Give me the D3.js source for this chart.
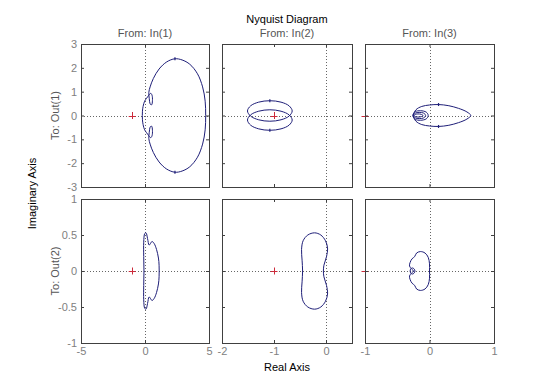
<!DOCTYPE html>
<html><head><meta charset="utf-8">
<script src="https://cdn.jsdelivr.net/npm/d3@7"></script>
<style>body{margin:0;background:#fff}svg text{font-family:"Liberation Sans",Arial,sans-serif}</style>
</head><body><svg id="c" width="545" height="384"></svg>
<script>
// ---- data ----
const inputs = ["From: In(1)", "From: In(2)", "From: In(3)"];
const outputs = ["To: Out(1)", "To: Out(2)"];
const xDomains = [[-5, 5], [-2, 0.5], [-1, 1]];
const yDomains = [[-3, 3], [-1, 1]];
const xTicks = [[-5, 0, 5], [-2, -1, 0], [-1, 0, 1]];
const yTicks = [[-3, -2, -1, 0, 1, 2, 3], [-1, -0.5, 0, 0.5, 1]];
const criticalPoint = [-1, 0];

// Out(1) <- In(1)
const nyq11 = [[4.74,0],[4.7,0.6],[4.5,1.2],[4.1,1.75],[3.5,2.15],[2.9,2.33],[2.34,2.38],[1.7,2.25],[1.1,1.95],[0.65,1.55],[0.4,1.2],[0.3,0.97],[0.33,0.72],[0.42,0.47],[0.52,0.45],[0.58,0.62],[0.55,0.85],[0.45,0.93],[0.3,0.85],[0.12,0.72],[-0.03,0.6],[-0.15,0.38],[-0.2,0.18],[-0.21,0],
  [-0.2,-0.18],[-0.15,-0.38],[-0.03,-0.6],[0.12,-0.72],[0.3,-0.85],[0.45,-0.93],[0.55,-0.85],[0.58,-0.62],[0.52,-0.45],[0.42,-0.47],[0.33,-0.72],[0.3,-0.97],[0.4,-1.2],[0.65,-1.55],[1.1,-1.95],[1.7,-2.25],[2.34,-2.38],[2.9,-2.33],[3.5,-2.15],[4.1,-1.75],[4.5,-1.2],[4.7,-0.6]];
// Out(1) <- In(2)
const nyq12pos = [[-0.65,0.19],[-0.71,0.405],[-0.865,0.56],[-1.08,0.62],[-1.295,0.56],[-1.45,0.405],[-1.51,0.19],[-1.45,-0.025],[-1.295,-0.18],[-1.08,-0.24],[-0.865,-0.18],[-0.71,-0.025]];
const nyq12neg = [[-0.65,-0.19],[-0.71,-0.405],[-0.865,-0.56],[-1.08,-0.62],[-1.295,-0.56],[-1.45,-0.405],[-1.51,-0.19],[-1.45,0.025],[-1.295,0.18],[-1.08,0.24],[-0.865,0.18],[-0.71,0.025]];
// Out(1) <- In(3)
const nyq13 = [[0.64,0],[0.58,0.15],[0.45,0.3],[0.3,0.41],[0.14,0.46],[0.0,0.44],[-0.12,0.38],[-0.21,0.24],[-0.25,0],[-0.21,-0.24],[-0.12,-0.38],[0.0,-0.44],[0.14,-0.46],[0.3,-0.41],[0.45,-0.3],[0.58,-0.15]];
const nyq13a = [[-0.02,0],[-0.05,0.14],[-0.14,0.2],[-0.22,0.16],[-0.26,0],[-0.22,-0.16],[-0.14,-0.2],[-0.05,-0.14]];
const nyq13b = [[-0.06,0],[-0.09,0.1],[-0.16,0.13],[-0.22,0.1],[-0.25,0],[-0.22,-0.1],[-0.16,-0.13],[-0.09,-0.1]];
const nyq13c = [[-0.1,0],[-0.13,0.05],[-0.18,0.065],[-0.22,0.045],[-0.24,0],[-0.22,-0.045],[-0.18,-0.065],[-0.13,-0.05]];
// Out(2) <- In(1)
const nyq21 = [[-0.08,0],[-0.1,0.2],[-0.1,0.4],[-0.02,0.52],[0.08,0.53],[0.2,0.45],[0.32,0.36],[0.42,0.38],[0.55,0.41],[0.72,0.38],[0.9,0.3],[1.05,0.18],[1.1,0.08],
  [1.1,-0.08],[1.05,-0.18],[0.9,-0.3],[0.72,-0.38],[0.55,-0.41],[0.42,-0.38],[0.32,-0.36],[0.2,-0.45],[0.08,-0.53],[-0.02,-0.52],[-0.1,-0.4],[-0.1,-0.2]];
// Out(2) <- In(2)
const nyq22 = [[-0.45,0],[-0.46,0.15],[-0.47,0.3],[-0.44,0.42],[-0.35,0.5],[-0.22,0.53],[-0.1,0.5],[-0.01,0.42],[0.03,0.32],[0.01,0.2],[-0.04,0.08],[-0.05,0],
  [-0.04,-0.08],[0.01,-0.2],[0.03,-0.32],[-0.01,-0.42],[-0.1,-0.5],[-0.22,-0.53],[-0.35,-0.5],[-0.44,-0.42],[-0.47,-0.3],[-0.46,-0.15]];
// Out(2) <- In(3)
const nyq23 = [[0.0,0],[0.0,0.1],[-0.02,0.19],[-0.07,0.25],[-0.14,0.27],[-0.2,0.25],[-0.23,0.2],[-0.27,0.17],[-0.3,0.12],[-0.31,0.07],[-0.28,0.03],[-0.25,0],
  [-0.28,-0.03],[-0.31,-0.07],[-0.3,-0.12],[-0.27,-0.17],[-0.23,-0.2],[-0.2,-0.25],[-0.14,-0.27],[-0.07,-0.25],[-0.02,-0.19],[0.0,-0.1]];
const nyq23loop = [[-0.225,0],[-0.24,0.03],[-0.265,0.042],[-0.29,0.03],[-0.3,0],[-0.29,-0.03],[-0.265,-0.042],[-0.24,-0.03]];
// arrow marks on the curves
const arrows11 = [[2.34,2.38],[2.34,-2.38]];
const arrows12 = [[-1.08,0.62],[-1.08,-0.62]];
const arrows13 = [[0.14,0.46],[0.14,-0.46]];

const panels = [
  {row:0,col:0,curves:[nyq11],arrows:arrows11},
  {row:0,col:1,curves:[nyq12pos,nyq12neg],arrows:arrows12},
  {row:0,col:2,curves:[nyq13,nyq13a,nyq13b,nyq13c],arrows:arrows13},
  {row:1,col:0,curves:[nyq21],arrows:[]},
  {row:1,col:1,curves:[nyq22],arrows:[]},
  {row:1,col:2,curves:[nyq23,nyq23loop],arrows:[]}
];

// ---- layout ----
const colL = [81, 222, 365], colR = [209, 352, 494];
const rowT = [44, 199], rowB = [187, 343];
const curveColor = "#1e1e78", boxColor = "#404040", labelGray = "#808080", headGray = "#555555";
const FS = 11;

const svg = d3.select("#c");
const defs = svg.append("defs");

panels.forEach((p, i) => {
  const x = d3.scaleLinear().domain(xDomains[p.col]).range([colL[p.col], colR[p.col]]);
  const y = d3.scaleLinear().domain(yDomains[p.row]).range([rowB[p.row], rowT[p.row]]);
  const g = svg.append("g");
  defs.append("clipPath").attr("id", "clip" + i).append("rect")
    .attr("x", colL[p.col]).attr("y", rowT[p.row])
    .attr("width", colR[p.col] - colL[p.col]).attr("height", rowB[p.row] - rowT[p.row]);
  const inner = g.append("g").attr("clip-path", `url(#clip${i})`);
  // dotted zero lines
  inner.append("line").attr("x1", colL[p.col]).attr("x2", colR[p.col])
    .attr("y1", Math.round(y(0)) + 0.5).attr("y2", Math.round(y(0)) + 0.5)
    .attr("stroke", "#666").attr("stroke-dasharray", "1,2");
  inner.append("line").attr("y1", rowT[p.row]).attr("y2", rowB[p.row])
    .attr("x1", Math.round(x(0)) + 0.5).attr("x2", Math.round(x(0)) + 0.5)
    .attr("stroke", "#666").attr("stroke-dasharray", "1,2");
  // curves
  const line = d3.line().x(d => x(d[0])).y(d => y(d[1])).curve(d3.curveCatmullRomClosed.alpha(0.5));
  p.curves.forEach(c => inner.append("path").attr("d", line(c)).attr("fill", "none")
    .attr("stroke", curveColor).attr("stroke-width", 1));
  p.arrows.forEach(a => inner.append("line")
    .attr("x1", x(a[0])).attr("x2", x(a[0])).attr("y1", y(a[1]) - 1.5).attr("y2", y(a[1]) + 1.5)
    .attr("stroke", curveColor).attr("stroke-width", 1.2));
  // critical point
  const cx = x(criticalPoint[0]), cy = y(criticalPoint[1]);
  g.append("path").attr("d", `M${cx-3.5},${Math.round(cy)+0.5}H${cx+3.5}M${Math.round(cx)+0.5},${cy-3.5}V${cy+3.5}`)
    .attr("stroke", "#cc2a3a").attr("stroke-width", 1).attr("fill", "none");
  // axes (ticks drawn inward)
  const styleAxis = (sel) => {
    sel.select(".domain").remove();
    sel.selectAll(".tick line").attr("stroke", boxColor);
    sel.selectAll("text").attr("fill", labelGray).attr("font-size", FS)
      .attr("font-family", '"Liberation Sans", Arial, sans-serif');
  };
  g.append("g").attr("transform", `translate(${colL[p.col]},0)`)
    .call(d3.axisLeft(y).tickValues(yTicks[p.row]).tickSizeInner(-3).tickSizeOuter(0).tickPadding(4)
      .tickFormat(p.col === 0 ? (d => String(d)) : (() => "")))
    .call(styleAxis);
  g.append("g").attr("transform", `translate(${colR[p.col]},0)`)
    .call(d3.axisRight(y).tickValues(yTicks[p.row]).tickSizeInner(-3).tickSizeOuter(0).tickFormat(() => ""))
    .call(styleAxis);
  g.append("g").attr("transform", `translate(0,${rowB[p.row]})`)
    .call(d3.axisBottom(x).tickValues(xTicks[p.col]).tickSizeInner(-3).tickSizeOuter(0).tickPadding(4)
      .tickFormat(p.row === 1 ? (d => String(d)) : (() => "")))
    .call(styleAxis);
  g.append("g").attr("transform", `translate(0,${rowT[p.row]})`)
    .call(d3.axisTop(x).tickValues(xTicks[p.col]).tickSizeInner(-3).tickSizeOuter(0).tickFormat(() => ""))
    .call(styleAxis);
  // box
  g.append("rect").attr("x", colL[p.col] + 0.5).attr("y", rowT[p.row] + 0.5)
    .attr("width", colR[p.col] - colL[p.col]).attr("height", rowB[p.row] - rowT[p.row])
    .attr("fill", "none").attr("stroke", boxColor).attr("stroke-width", 1);
});

// headers
inputs.forEach((t, c) => svg.append("text").attr("x", (colL[c] + colR[c]) / 2).attr("y", 37)
  .attr("text-anchor", "middle").attr("font-size", FS).attr("fill", headGray).text(t));
outputs.forEach((t, r) => svg.append("text")
  .attr("transform", `translate(59,${(rowT[r] + rowB[r]) / 2}) rotate(-90)`)
  .attr("text-anchor", "middle").attr("font-size", FS).attr("fill", headGray).text(t));
svg.append("text").attr("x", 287).attr("y", 23).attr("text-anchor", "middle")
  .attr("font-size", FS).attr("fill", "#000").text("Nyquist Diagram");
svg.append("text").attr("x", 287).attr("y", 371).attr("text-anchor", "middle")
  .attr("font-size", FS).attr("fill", "#000").text("Real Axis");
svg.append("text").attr("transform", `translate(36,${(rowT[0] + rowB[1]) / 2}) rotate(-90)`)
  .attr("text-anchor", "middle").attr("font-size", FS).attr("fill", "#000").text("Imaginary Axis");
</script></body></html>
